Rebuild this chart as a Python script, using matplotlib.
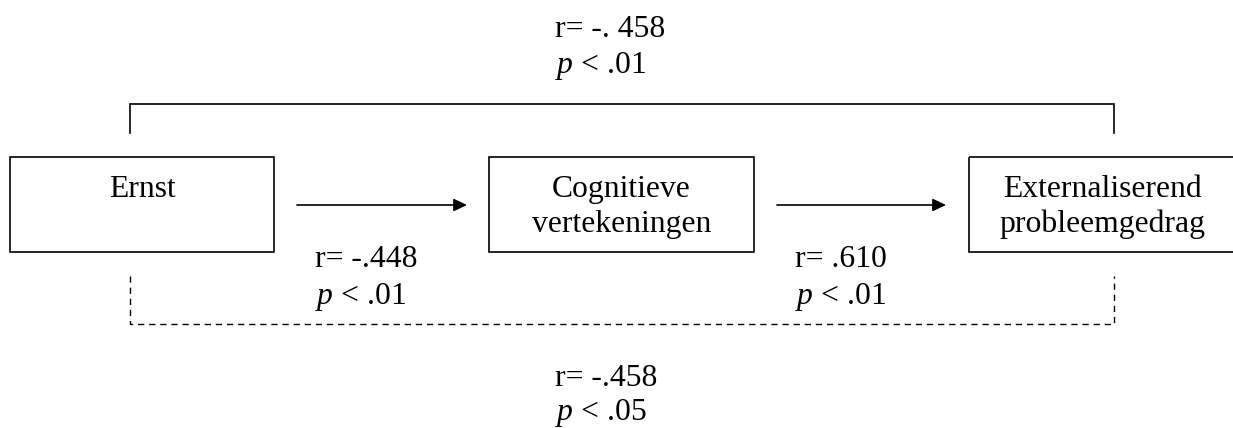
"""
Padmodel: Ernst -> Cognitieve vertekeningen -> Externaliserend probleemgedrag
"""
import matplotlib.pyplot as plt
from matplotlib.patches import Rectangle

plt.rcParams["font.family"] = "Liberation Serif"
plt.rcParams["mathtext.fontset"] = "custom"
plt.rcParams["mathtext.rm"] = "Liberation Serif"
plt.rcParams["mathtext.it"] = "Liberation Serif:italic"

# variabelen (boxen) en hun labels
BOX_LABELS = ["Ernst", "Cognitieve\nvertekeningen", "Externaliserend\nprobleemgedrag"]
BOX_LEFT = [10, 489, 969]
BOX_RIGHT = [274, 754, 1236]

# padcoëfficiënten
R_A = "r= -.448"
P_A = "< .01"
R_B = "r= .610"
P_B = "< .01"
R_TOTAL = "r= -. 458"
P_TOTAL = "< .01"
R_DIRECT = "r= -.458"
P_DIRECT = "< .05"

FS = 22.8
BOX_TOP, BOX_BOT = 157, 252


def ptext(ax, x, y, rest):
    ax.text(x, y, r"$\mathit{p}$ " + rest, fontsize=FS, va="baseline", ha="left")


fig = plt.figure(figsize=(12.33, 4.28), dpi=100)
ax = fig.add_axes([0, 0, 1, 1])
ax.set_xlim(0, 1233)
ax.set_ylim(428, 0)
ax.axis("off")

for lab, x0, x1 in zip(BOX_LABELS, BOX_LEFT, BOX_RIGHT):
    ax.add_patch(Rectangle((x0, BOX_TOP), x1 - x0, BOX_BOT - BOX_TOP,
                           fill=False, edgecolor="black", linewidth=1.2))
    lines = lab.split("\n")
    for i, ln in enumerate(lines):
        ax.text((x0 + x1) / 2, 197 + 35 * i, ln, fontsize=FS,
                ha="center", va="baseline")

# pijlen
for xs, xe in [(297, 467), (777, 946)]:
    ax.annotate("", xy=(xe, 205), xytext=(xs, 205),
                arrowprops=dict(arrowstyle="-|>,head_length=0.8,head_width=0.38",
                                color="black", lw=1.2, shrinkA=0, shrinkB=0))

# totaal effect (bovenste beugel)
ax.plot([130, 130, 1114, 1114], [133, 104, 104, 133], color="black", lw=1.2,
        solid_joinstyle="miter")

# direct effect (gestippelde beugel)
ax.plot([130, 130, 1114, 1114], [276, 324, 324, 276], color="black", lw=1.0,
        linestyle=(0, (4.5, 3.5)))

ax.text(315, 267, R_A, fontsize=FS, va="baseline")
ptext(ax, 315, 304, P_A)
ax.text(795, 267, R_B, fontsize=FS, va="baseline")
ptext(ax, 795, 304, P_B)
ax.text(555, 37, R_TOTAL, fontsize=FS, va="baseline")
ptext(ax, 555, 73, P_TOTAL)
ax.text(555, 386, R_DIRECT, fontsize=FS, va="baseline")
ptext(ax, 555, 420, P_DIRECT)

fig.savefig("out.png", dpi=100)
